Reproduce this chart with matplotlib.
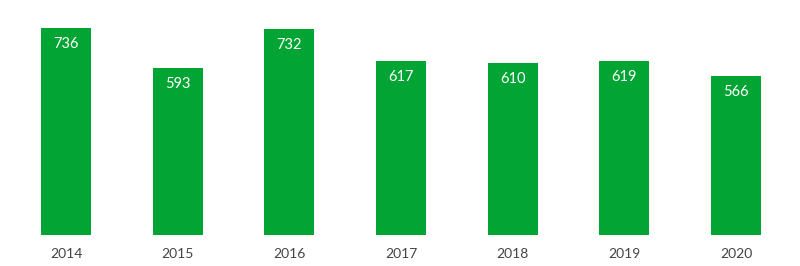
import matplotlib
matplotlib.use("Agg")
import matplotlib.pyplot as plt

# Data
years = ["2014", "2015", "2016", "2017", "2018", "2019", "2020"]
values = [736, 593, 732, 617, 610, 619, 566]

green = "#02a533"

plt.rcParams['font.family'] = ['Lato', 'DejaVu Sans']

fig = plt.figure(figsize=(8, 2.66), dpi=100)
ax = fig.add_axes([0, 31 / 266, 1, 207 / 266])

x = list(range(len(years)))
bars = ax.bar(x, values, width=0.45, color=green)

# value labels inside top of bars
for xi, v in zip(x, values):
    ax.annotate(str(v), (xi, v), xytext=(0, -11.5), textcoords="offset points",
                ha="center", va="center", color="white", fontsize=10.5)

ax.set_xlim(-66 / 111.67, (800 - 66) / 111.67)
ax.set_ylim(0, 736)
ax.set_xticks(x)
ax.set_xticklabels(years, fontsize=10, color="#444444")
ax.tick_params(axis="x", length=0, pad=9)
ax.set_yticks([])
for s in ax.spines.values():
    s.set_visible(False)

fig.savefig("out.png", dpi=100, facecolor="white")
